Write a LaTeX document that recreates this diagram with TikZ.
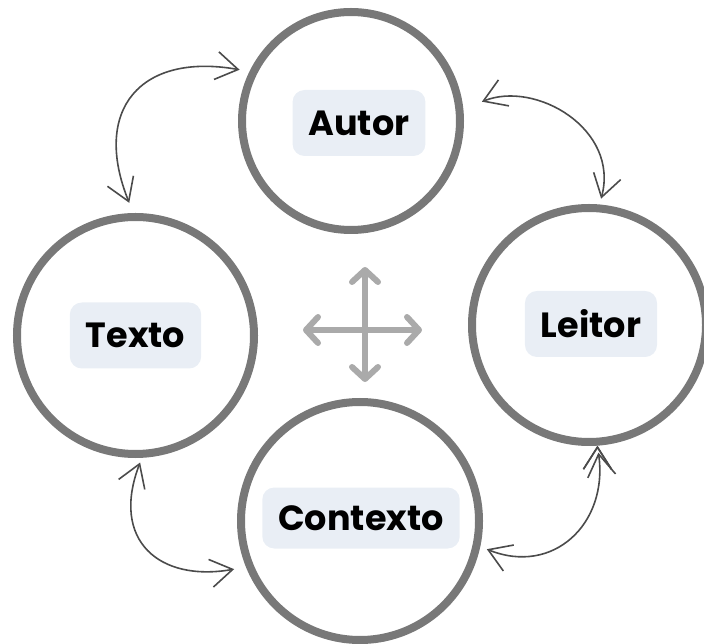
\documentclass[tikz,border=0pt]{standalone}
\usepackage{fontspec}
\setmainfont{Poppins}
\usepackage{tikz}
\usetikzlibrary{arrows.meta}

\definecolor{ringgray}{RGB}{120,120,120}
\definecolor{tagfill}{RGB}{233,238,245}
\definecolor{linkgray}{RGB}{75,75,75}
\definecolor{crossgray}{RGB}{170,170,170}

\begin{document}
\begin{tikzpicture}[x=1pt,y=1pt,
		ring/.style={circle, draw=ringgray, line width=8pt, inner sep=0pt},
		tag/.style={fill=tagfill, rounded corners=12pt, inner xsep=16pt, minimum height=66pt, font=\fontsize{35}{42}\selectfont\bfseries},
		link/.style={draw=linkgray, line width=1.6pt, {Straight Barb[length=22pt,width=28pt]}-{Straight Barb[length=22pt,width=28pt]}},
		cross/.style={draw=crossgray, line width=6pt, line cap=round, {Straight Barb[round,length=12pt,width=26pt]}-{Straight Barb[round,length=12pt,width=26pt]}}]
		\useasboundingbox (0,0) rectangle (704,643);
		% circles
		\node[ring, minimum size=218pt] (autor) at (351,522) {};
		\node[ring, minimum size=237pt] (texto) at (135.5,307.5) {};
		\node[ring, minimum size=234pt] (leitor) at (589,318) {};
		\node[ring, minimum size=238pt] (contexto) at (360,122) {};
		% labels
		\node[tag] (autortag) at ([shift={(8,-2)}]autor.center) {Autor};
		\node[tag] (textotag) at (texto.center) {Texto};
		\node[tag] (leitortag) at ([shift={(2,1)}]leitor.center) {Leitor};
		\node[tag, minimum height=61pt] (contextotag) at ([shift={(1,3)}]contexto.center) {Contexto};
		% curved links
		\path[link]
		(texto.91) edge[out=112, in=170, looseness=1.55, shorten <=11pt, shorten >=10pt] (autor.154)
		(autor.6) edge[out=22, in=75, looseness=1.2, shorten <=20pt, shorten >=6pt] (leitor.85)
		(texto.273) edge[out=249, in=190, looseness=1.5, shorten <=5pt, shorten >=12pt] (contexto.202)
		(leitor.274) edge[out=278, in=338, looseness=1.3, shorten <=7pt, shorten >=7pt] (contexto.348);
		% cross in the middle
		\coordinate (crossN) at (365,376);
		\coordinate (crossS) at (365,261);
		\coordinate (crossW) at (303,313);
		\coordinate (crossE) at (422,313);
		\draw[cross] (crossW) -- (crossE);
		\draw[cross] (crossS) -- (crossN);
\end{tikzpicture}
\end{document}
